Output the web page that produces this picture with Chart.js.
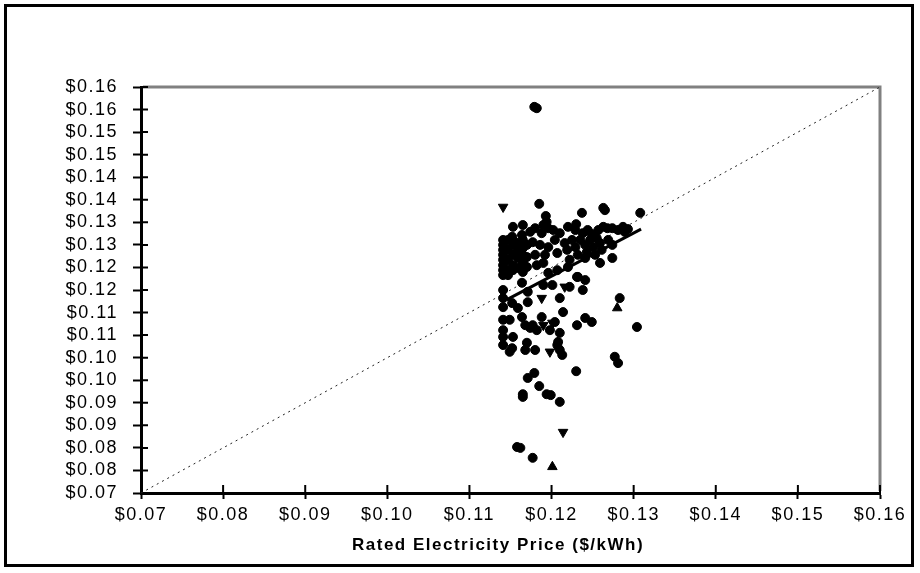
<!DOCTYPE html>
<html>
<head>
<meta charset="utf-8">
<script src="https://cdn.jsdelivr.net/npm/chart.js@4/dist/chart.umd.min.js"></script>
<style>
  html, body { margin: 0; padding: 0; background: #fff; }
  #wrap { position: relative; width: 920px; height: 573px; }
  #c { position: absolute; left: 0; top: 0; }
  #frame { position: absolute; left: 4px; top: 4px; width: 910px; height: 563px; border: 3px solid #000; box-sizing: border-box; pointer-events: none; }
</style>
</head>
<body>
<div id="wrap">
  <canvas id="c" width="920" height="573"></canvas>
  <div id="frame"></div>
</div>
<script>
// ---- Data ----
const xTickValues = [0.07, 0.08, 0.09, 0.10, 0.11, 0.12, 0.13, 0.14, 0.15, 0.16];
const xTickLabels = ['$0.07','$0.08','$0.09','$0.10','$0.11','$0.12','$0.13','$0.14','$0.15','$0.16'];
const yTickValues = [0.070,0.075,0.080,0.085,0.090,0.095,0.100,0.105,0.110,0.115,0.120,0.125,0.130,0.135,0.140,0.145,0.150,0.155,0.160];
const yTickLabels = ['$0.07','$0.08','$0.08','$0.09','$0.09','$0.10','$0.10','$0.11','$0.11','$0.12','$0.12','$0.13','$0.13','$0.14','$0.14','$0.15','$0.15','$0.16','$0.16'];
const xTitle = 'Rated Electricity Price ($/kWh)';

// scatter points (circles)
const circleX = [
  0.1179,0.1182,0.1185,0.1193,0.1194,0.1237,0.1263,0.1265,0.1308,0.1230,
  0.1153,0.1165,0.1180,0.1190,0.1196,0.1202,0.1210,0.1220,0.1164,0.1152,0.1188,0.1238,0.1249,0.1263,0.1268,0.1274,0.1281,0.1287,0.1257,0.1244,0.1229,0.1174,
  0.1141,0.1141,0.1141,0.1141,0.1141,0.1141,0.1141,0.1141,
  0.1147,0.1147,0.1147,0.1147,0.1147,
  0.1153,0.1153,0.1153,0.1153,0.1153,
  0.1159,0.1159,0.1159,0.1159,
  0.1165,0.1165,0.1165,0.1165,0.1165,
  0.1170,0.1170,0.1170,
  0.1177,0.1186,0.1196,0.1204,0.1207,0.1216,0.1219,0.1225,0.1229,0.1232,0.1235,0.1241,0.1243,0.1247,0.1251,0.1255,0.1259,0.1261,0.1253,0.1241,0.1222,0.1190,0.1207,0.1196,0.1180,0.1182,0.1192,0.1269,0.1274,0.1274,0.1259,0.1232,0.1220,
  0.1164,0.1171,0.1141,0.1141,0.1141,0.1152,0.1159,0.1171,0.1190,0.1201,0.1222,0.1210,0.1231,0.1241,0.1238,0.1283,0.1214,0.1164,0.1188,0.1141,0.1141,0.1141,0.1141,0.1149,0.1168,0.1177,0.1198,0.1153,0.1231,0.1241,0.1249,0.1304,0.1170,0.1180,0.1168,0.1152,0.1149,0.1207,0.1213,0.1277,0.1281,0.1230,0.1179,0.1171,0.1185,0.1165,0.1165,0.1194,0.1199,0.1210,0.1158,0.1162,0.1177,
  0.1174,0.1182,0.1204,0.1210,0.1208,0.1210,0.1293,0.1289
];
const circleY = [
  0.1556,0.1553,0.1341,0.1314,0.1301,0.1321,0.1332,0.1327,0.1321,0.1296,
  0.1290,0.1294,0.1287,0.1294,0.1287,0.1283,0.1276,0.1290,0.1272,0.1268,0.1276,0.1276,0.1274,0.1290,0.1287,0.1287,0.1283,0.1290,0.1283,0.1283,0.1283,0.1279,
  0.1261,0.1250,0.1239,0.1228,0.1217,0.1205,0.1194,0.1183,
  0.1261,0.1239,0.1217,0.1194,0.1183,
  0.1261,0.1250,0.1228,0.1205,0.1194,
  0.1254,0.1239,0.1221,0.1199,
  0.1261,0.1243,0.1228,0.1210,0.1190,
  0.1250,0.1223,0.1201,
  0.1256,0.1250,0.1245,0.1261,0.1232,0.1254,0.1239,0.1261,0.1245,0.1228,0.1261,0.1250,0.1234,0.1261,0.1245,0.1265,0.1254,0.1239,0.1228,0.1221,0.1217,0.1210,0.1194,0.1188,0.1228,0.1205,0.1228,0.1261,0.1250,0.1221,0.1210,0.1179,0.1201,
  0.1166,0.1146,0.1150,0.1132,0.1112,0.1121,0.1110,0.1123,0.1161,0.1161,0.1157,0.1132,0.1179,0.1172,0.1150,0.1132,0.1101,0.1090,0.1090,0.1084,0.1061,0.1046,0.1028,0.1084,0.1072,0.1072,0.1061,0.1046,0.1072,0.1088,0.1079,0.1068,0.1033,0.1017,0.1017,0.1021,0.1013,0.1028,0.1006,0.1002,0.0988,0.0970,0.0966,0.0955,0.0937,0.0919,0.0913,0.0919,0.0917,0.0902,0.0802,0.0800,0.0778,
  0.1066,0.1061,0.1079,0.1055,0.1035,0.1017,0.1285,0.1279
];
// triangles pointing down
const triDownX = [0.1141,0.1188,0.1216,0.1190,0.1201,0.1214,0.1198];
const triDownY = [0.1334,0.1132,0.1157,0.1072,0.1077,0.0835,0.1013];
// triangles pointing up
const triUpX = [0.1280,0.1201];
const triUpY = [0.1110,0.0758];
// linear trend line
const trendX = [0.1145, 0.1309];
const trendY = [0.1128, 0.1285];
// 45-degree reference line
const diagX = [0.07, 0.16];
const diagY = [0.07, 0.16];

// ---- Build ----
const pts = (xs, ys) => xs.map((x, i) => ({x, y: ys[i]}));
const FONT = "'Liberation Sans', Arial, sans-serif";

const spacing = {
  id: 'spacing',
  beforeLayout(chart) { chart.ctx.letterSpacing = '1.5px'; },
  beforeDraw(chart) { chart.ctx.letterSpacing = '1.5px'; }
};

const axisDecor = {
  id: 'axisDecor',
  beforeDatasetsDraw(chart) {
    const {ctx, chartArea: a, scales: {x, y}} = chart;
    ctx.save();
    ctx.strokeStyle = '#808080';
    ctx.lineWidth = 3;
    ctx.beginPath();
    ctx.moveTo(a.left + 2, a.top);
    ctx.lineTo(a.right, a.top);
    ctx.lineTo(a.right, a.bottom - 2);
    ctx.stroke();
    ctx.strokeStyle = '#000';
    ctx.lineWidth = 2;
    ctx.beginPath();
    x.ticks.forEach(t => { const px = x.getPixelForValue(t.value); ctx.moveTo(px, a.bottom); ctx.lineTo(px, a.bottom - 8); });
    y.ticks.forEach(t => { const py = y.getPixelForValue(t.value); ctx.moveTo(a.left, py); ctx.lineTo(a.left + 7, py); });
    ctx.stroke();
    ctx.restore();
  }
};

new Chart(document.getElementById('c'), {
  type: 'scatter',
  data: {
    datasets: [
      { label: 'Trend', data: pts(trendX, trendY), showLine: true, borderColor: '#000', borderWidth: 3, pointRadius: 0, order: 1 },
      { label: 'Points', data: pts(circleX, circleY), pointStyle: 'circle', pointRadius: 4.5, backgroundColor: '#000', borderColor: '#000', borderWidth: 1, order: 2 },
      { label: 'Down', data: pts(triDownX, triDownY), pointStyle: 'triangle', rotation: 180, pointRadius: 5.5, backgroundColor: '#000', borderColor: '#000', borderWidth: 1, order: 2 },
      { label: 'Up', data: pts(triUpX, triUpY), pointStyle: 'triangle', pointRadius: 5.5, backgroundColor: '#000', borderColor: '#000', borderWidth: 1, order: 2 },
      { label: 'Diagonal', data: pts(diagX, diagY), showLine: true, borderColor: '#222', borderWidth: 1, borderDash: [2, 4], pointRadius: 0, order: 3 }
    ]
  },
  options: {
    responsive: false,
    animation: false,
    devicePixelRatio: 1,
    layout: { padding: { left: 0, top: 87, right: 40, bottom: 0 } },
    plugins: { legend: { display: false }, tooltip: { enabled: false }, title: { display: false } },
    scales: {
      x: {
        type: 'linear', min: 0.07, max: 0.16,
        afterBuildTicks(s) { s.ticks = xTickValues.map(v => ({value: v})); },
        afterFit(s) { s.height = 80; },
        border: { color: '#000', width: 3 },
        grid: { drawOnChartArea: false, drawTicks: true, tickLength: 6, tickColor: '#000', tickWidth: 2, color: '#000' },
        ticks: { autoSkip: false, maxRotation: 0, padding: 5, color: '#000', font: { family: FONT, size: 18 },
          callback: (v, i) => xTickLabels[i] },
        title: { display: true, text: xTitle + '    ', color: '#000', font: { family: FONT, size: 17, weight: 'bold' }, padding: { top: 0, bottom: 17 } }
      },
      y: {
        type: 'linear', min: 0.07, max: 0.16,
        afterBuildTicks(s) { s.ticks = yTickValues.map(v => ({value: v})); },
        afterFit(s) { s.width = 141; },
        border: { color: '#000', width: 3 },
        grid: { drawOnChartArea: false, drawTicks: true, tickLength: 8, tickColor: '#000', tickWidth: 2, color: '#000' },
        ticks: { autoSkip: false, padding: 15, color: '#000', font: { family: FONT, size: 18 },
          callback: (v, i) => yTickLabels[i] }
      }
    }
  },
  plugins: [spacing, axisDecor]
});
</script>
</body>
</html>
